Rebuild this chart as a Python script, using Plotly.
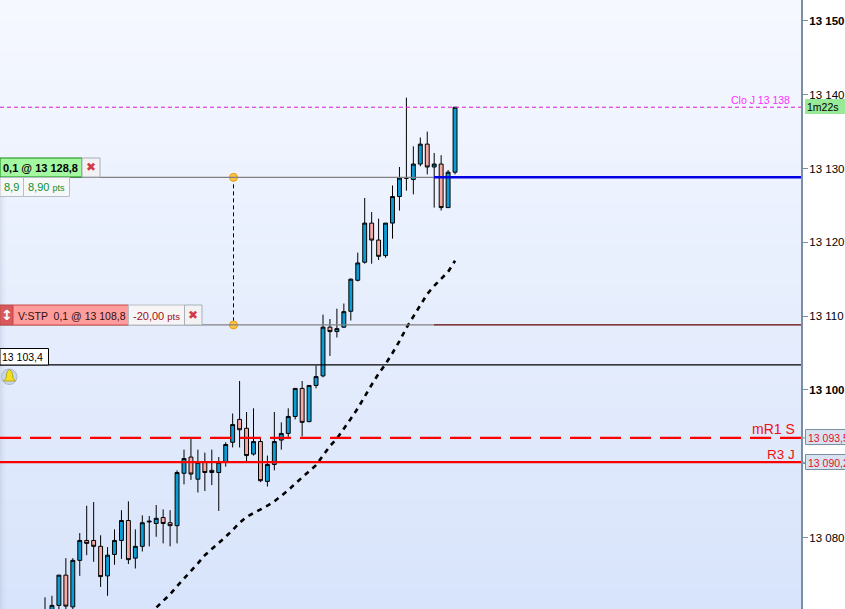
import plotly.graph_objects as go

# ---- data ----
opens = [13067.0,13068.0,13070.8,13074.9,13070.6,13076.9,13079.6,13079.6,13078.8,13074.8,
         13077.7,13079.6,13082.3,13077.2,13078.8,13082.1,13081.9,13082.7,13082.0,13081.6,
         13088.7,13090.9,13087.9,13090.2,13089.1,13088.8,13090.2,13092.9,13096.0,13094.8,
         13091.3,13093.0,13087.6,13089.9,13093.2,13094.1,13096.4,13100.2,13095.7,13100.6,
         13101.9,13108.5,13107.9,13108.5,13110.65,13114.85,13117.3,13122.6,13120.3,13118.2,
         13122.6,13126.2,13128.7,13128.5,13130.6,13133.3,13130.2,13130.6,13124.7,13129.5]
highs = [13071.9,13072.1,13074.9,13077.2,13077.2,13080.6,13084.3,13084.8,13080.3,13078.7,
         13081.1,13083.7,13084.9,13081.1,13083.0,13082.9,13084.4,13083.8,13083.7,13089.1,
         13091.9,13093.6,13091.9,13091.5,13091.9,13090.9,13092.9,13096.8,13101.2,13097.0,
         13097.5,13093.4,13091.1,13097.0,13095.6,13097.5,13100.2,13101.2,13100.6,13103.3,
         13110.2,13109.6,13111.0,13111.7,13115.1,13118.6,13126.0,13124.1,13123.2,13122.6,
         13127.7,13130.2,13139.6,13133.0,13134.2,13135.0,13132.1,13131.8,13129.8,13138.3]
lows = [13066.0,13067.5,13070.3,13069.0,13070.0,13074.8,13077.6,13076.7,13073.3,13072.1,
        13076.3,13077.1,13076.4,13075.8,13078.1,13078.8,13080.1,13079.2,13078.8,13079.2,
        13087.2,13087.8,13086.1,13086.3,13087.1,13083.6,13089.6,13092.2,13092.2,13090.3,
        13091.1,13087.5,13086.9,13089.1,13091.9,13093.4,13096.0,13093.7,13095.6,13100.2,
        13101.7,13104.6,13107.1,13108.4,13109.4,13114.7,13117.1,13117.1,13117.6,13117.9,
        13120.5,13124.3,13127.0,13126.5,13130.3,13129.2,13124.7,13124.3,13124.7,13129.2]
closes = [13069.0,13070.8,13074.9,13070.7,13076.9,13079.6,13079.2,13078.8,13074.7,13077.6,
          13079.6,13082.3,13077.0,13078.8,13082.0,13082.2,13082.6,13081.9,13081.6,13088.8,
          13090.7,13088.6,13090.2,13088.8,13088.8,13090.2,13092.6,13095.3,13094.6,13091.1,
          13093.0,13087.7,13089.9,13093.0,13094.1,13096.4,13100.2,13095.6,13100.6,13101.8,
          13108.5,13107.9,13108.3,13110.6,13115.0,13117.2,13122.6,13120.3,13118.1,13122.6,
          13126.2,13128.7,13128.7,13130.6,13133.3,13130.2,13130.6,13124.7,13129.5,13138.3]
ma_start = 15
ma_values = [13069.6,13070.5,13071.4,13072.3,13073.4,13074.4,13075.5,13076.5,13077.6,13078.4,
             13079.3,13080.1,13081.0,13082.0,13082.8,13083.3,13083.7,13084.3,13084.9,13085.6,
             13086.4,13087.3,13088.1,13088.9,13089.8,13091.1,13092.4,13093.4,13094.7,13096.1,
             13097.5,13099.2,13100.7,13102.2,13103.5,13105.0,13106.6,13108.4,13110.0,13111.6,
             13113.0,13114.1,13115.1,13116.0,13117.5]
tick_vals = [13080,13090,13100,13110,13120,13130,13140,13150]
tick_text = ["13 080","","<b>13 100</b>","13 110","13 120","13 130","13 140","<b>13 150</b>"]
level_close = 13138.3
level_long = 13128.8
level_stop = 13108.8
level_alert = 13103.4
level_mr1 = 13093.5
level_r3 = 13090.2

# ---- layout helpers (pixel placement of the overlay widgets) ----
W, H, PW = 845, 609, 801
X = lambda p: p / PW
Y = lambda p: 1 - p / H
FONT = "Liberation Sans, Arial, sans-serif"
shapes, anns = [], []

def box(x0, y0, x1, y1, fill, line=None, lw=1, layer="above"):
    shapes.append(dict(type="rect", xref="paper", yref="paper", x0=X(x0), x1=X(x1), y0=Y(y0), y1=Y(y1),
                       fillcolor=fill, line=dict(color=line or fill, width=lw if line else 0), layer=layer))

def label(t, x, y, size=12, color="black", anchor="left", family=FONT):
    anns.append(dict(text=t, x=X(x), y=Y(y), xref="paper", yref="paper", showarrow=False, xanchor=anchor,
                     yanchor="middle", font=dict(size=size, color=color, family=family), borderpad=0, borderwidth=0))

def hline(v, color, width, dash="solid", x0=0, x1=PW):
    shapes.append(dict(type="line", xref="paper", yref="y", x0=X(x0), x1=X(x1), y0=v, y1=v,
                       line=dict(color=color, width=width, dash=dash)))

# background gradient
N = 60
top, bot = (245, 248, 255), (216, 228, 251)
for k in range(N):
    t = k / (N - 1)
    c = tuple(round(a + (b - a) * t) for a, b in zip(top, bot))
    box(0, H * k / N, PW, H * (k + 1) / N + 0.5, "rgb(%d,%d,%d)" % c, layer="below")
for k, a in enumerate([0.16, 0.12, 0.09, 0.06, 0.04, 0.02]):
    box(k, 190, k + 1, H, "rgba(120,130,160,%.2f)" % a, layer="below")

# horizontal levels
hline(level_close, "#d81cd8", 1, "4px,3px")
hline(level_long, "#808080", 1.3, x1=434)
hline(level_long, "#0000e0", 2.5, x0=434)
hline(level_stop, "#808080", 1.3, x1=434)
hline(level_stop, "#600000", 1.3, x0=434)
hline(level_alert, "black", 1.3)
hline(level_mr1, "#ff0000", 2.2, "21px,9px")
hline(level_r3, "#ff0000", 2.2)

# right-hand tags
box(805, 99, 850, 114, "#98ea98")
label("1m22s", 823, 107, 10.5, "black", "center")
for v, y0, t in [(level_mr1, 429.5, "13 093,5"), (level_r3, 454.5, "13 090,2")]:
    box(805.5, y0, 850, y0 + 15, "#d8e2f0", "#7a8fa3", 1)
    label(t, 808, y0 + 8, 10.5, "#e8102a")
    shapes.append(dict(type="line", xref="paper", yref="y", x0=X(801), x1=X(805), y0=v, y1=v,
                       line=dict(color="#7a8fa3", width=1)))
label("Clo J 13 138", 790, 100, 10.5, "#ff30ff", "right")
label("mR1 S", 795, 429, 14, "#f01010", "right")
label("R3 J", 795, 454, 13.5, "#f01010", "right")

# long position tag
box(0, 158, 82, 177, "#a4f8a0", "#108a10", 1)
label("<b>0,1 @ 13 128,8</b>", 3, 168, 11)
box(82, 158, 100, 177, "#f2f2f2", "#a8b0b8", 1)
label("✖", 91, 167.5, 12, "#d03848", "center", "DejaVu Sans")
box(0, 177.5, 23.5, 196.5, "#f6f7f8", "#b8bec6", 1)
box(23.5, 177.5, 69.5, 196.5, "#f6f7f8", "#b8bec6", 1)
label("8,9", 4, 187, 11, "#109030")
label("8,90 <span style='font-size:9px'>pts</span>", 28, 187, 11, "#109030")

# stop tag
box(0, 305, 13, 325, "#d85a5c", "#c04848", 1)
label("<b>↕</b>", 6.5, 315, 14, "white", "center", "DejaVu Sans")
box(13, 305, 128.5, 325, "#ff9c9c", "#d04848", 1)
label("V:STP  0,1 @ 13 108,8", 18, 315.5, 10.5, "#301010")
box(128.5, 305, 184.5, 325, "#f6f4f4", "#b8bec6", 1)
label("-20,00 <span style='font-size:9.5px'>pts</span>", 133, 315.5, 11, "#a01020")
box(184.5, 305, 202, 325, "#f2f2f2", "#a8b0b8", 1)
label("✖", 193, 315, 12, "#d03848", "center", "DejaVu Sans")

# alert tag + bell
box(0, 348.5, 48.5, 365, "white", "black", 1)
label("13 103,4", 2, 357, 10.5)
shapes.append(dict(type="circle", xref="paper", yref="paper", x0=X(1.5), x1=X(17), y0=Y(369), y1=Y(384.5),
                   fillcolor="#c8d6e6", line=dict(color="#a8b8c8", width=1)))
pts = [(9.5, 369.5), (12, 372), (13, 378), (15.5, 381), (3.5, 381), (6, 378), (7, 372)]
path = "M " + " L ".join(f"{X(a):.5f},{Y(b):.5f}" for a, b in pts) + " Z"
shapes.append(dict(type="path", xref="paper", yref="paper", path=path, fillcolor="#f4e020",
                   line=dict(color="#a89a10", width=0.8)))

# ---- traces ----
idx = list(range(len(opens)))
X_PER_CANDLE, X_FIRST = 6.95, 45.0
x_range = [(0 - X_FIRST) / X_PER_CANDLE, (PW - X_FIRST) / X_PER_CANDLE]
anchor_idx = (233.5 - X_FIRST) / X_PER_CANDLE

fig = go.Figure()
fig.add_trace(go.Candlestick(
    x=idx, open=opens, high=highs, low=lows, close=closes, whiskerwidth=0,
    increasing=dict(line=dict(color="black", width=1), fillcolor="#0c9bd2"),
    decreasing=dict(line=dict(color="black", width=1), fillcolor="#f6aaa6"),
    hoverinfo="skip"))
fig.add_trace(go.Scatter(x=idx[ma_start:], y=ma_values, mode="lines", hoverinfo="skip",
                         line=dict(color="black", width=2.6, dash="5px,5px")))
fig.add_trace(go.Scatter(x=[anchor_idx, anchor_idx], y=[level_long, level_stop], mode="lines+markers",
                         hoverinfo="skip", line=dict(color="black", width=1, dash="4px,3px"),
                         marker=dict(size=8, color="#ffc440", line=dict(color="#e89a18", width=1))))

fig.update_layout(
    width=W, height=H, margin=dict(l=0, r=W - PW, t=0, b=0), autosize=False, boxgap=0.2,
    paper_bgcolor="white", plot_bgcolor="rgba(0,0,0,0)", showlegend=False, hovermode=False,
    shapes=shapes, annotations=anns, font=dict(family=FONT, size=12, color="black"),
    xaxis=dict(visible=False, range=x_range, rangeslider=dict(visible=False), fixedrange=True),
    yaxis=dict(side="right", range=[13070.31, 13152.83], tickvals=tick_vals, ticktext=tick_text,
               showgrid=False, zeroline=False, showline=True, linecolor="#7a8fa3", linewidth=2,
               ticks="outside", ticklen=5, tickcolor="#7a8fa3", tickwidth=1, fixedrange=True,
               ticklabelstandoff=-1,
               tickfont=dict(size=11.5, color="black", family=FONT), automargin=False),
)
fig.write_html("out.html", config=dict(displayModeBar=False),
               post_script="document.body.style.margin='0';document.body.style.overflow='hidden';")
